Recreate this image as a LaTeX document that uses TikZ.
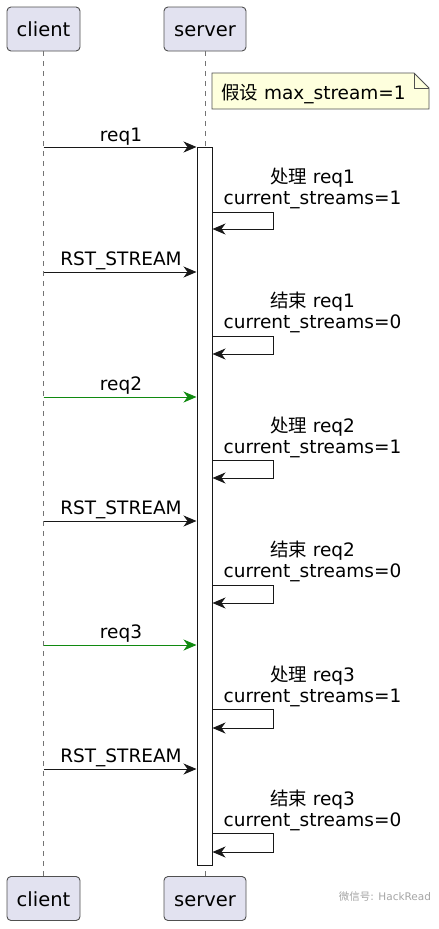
\documentclass[tikz,border=0pt]{standalone}
\usepackage{fontspec}
\setmainfont{DejaVu Sans}
\newfontfamily\cjk{Noto Sans CJK SC}
\usetikzlibrary{arrows.meta}
\definecolor{linec}{HTML}{181818}
\definecolor{boxline}{HTML}{505050}
\definecolor{partfill}{HTML}{E2E2F0}
\definecolor{notefill}{HTML}{FEFFDD}
\definecolor{msggreen}{HTML}{108A10}
\begin{document}
\begin{tikzpicture}[x=1pt,y=-1pt,
  part/.style={draw=boxline, fill=partfill, rounded corners=4pt, line width=0.9pt,
    minimum height=44pt, inner sep=0pt, text height=15pt, text depth=0pt,
    font=\fontsize{19.5}{22}\selectfont},
  life/.style={draw=linec!60, line width=0.8pt, dash pattern=on 5pt off 5pt},
  actbox/.style={draw=linec, fill=white, line width=1pt, minimum width=15pt,
    minimum height=718pt, inner sep=0pt},
  msg/.style={draw=linec, line width=1pt, -{Stealth[length=13pt,width=11pt,inset=4pt]}},
  gmsg/.style={msg, draw=msggreen, fill=msggreen},
  lbl/.style={font=\fontsize{18.5}{21}\selectfont, inner sep=0pt, anchor=base},
  notebox/.style={draw=boxline, fill=notefill, line width=0.9pt}]
\useasboundingbox (0,0) rectangle (439,929);
\fill[white] (0,0) rectangle (439,929);

% participants
\node[part, minimum width=73pt] (ct) at (43.5,29) {client};
\node[part, minimum width=82pt] (st) at (205,29) {server};
\node[part, minimum width=73pt] (cb) at (43.5,898.5) {client};
\node[part, minimum width=82pt] (sb) at (205,898.5) {server};

% lifelines
\draw[life] (ct.south) -- (cb.north);
\draw[life] (st.south) -- (sb.north);

% activation
\node[actbox] (act) at (204.5,506) {};

% note
\draw[notebox] (212,73) -- (414,73) -- (429,88) -- (429,109) -- (212,109) -- cycle;
\draw[draw=boxline, line width=0.9pt] (414,73) -- (414,88) -- (429,88);
\node[lbl, anchor=base west] (note) at (221,99) {{\cjk 假设} max\_stream=1};

% cycle 1
\draw[msg] (ct.south |- 0,147) -- (act.west |- 0,147);
\node[lbl] (m1) at (121,141) {req1};
\draw[msg] (act.east |- 0,212) -- ++(61,0) -- ++(0,17) -- (act.east |- 0,229);
\node[lbl] (s1a) at (312.5,183) {{\cjk 处理} req1};
\node[lbl] (s1b) at (312.5,204) {current\_streams=1};
\draw[msg] (ct.south |- 0,272) -- (act.west |- 0,272);
\node[lbl] (m2) at (121,265) {RST\_STREAM};
\draw[msg] (act.east |- 0,336) -- ++(61,0) -- ++(0,18) -- (act.east |- 0,354);
\node[lbl] (s2a) at (312.5,307.5) {{\cjk 结束} req1};
\node[lbl] (s2b) at (312.5,328.5) {current\_streams=0};

% cycle 2
\draw[gmsg] (ct.south |- 0,397) -- (act.west |- 0,397);
\node[lbl] (m3) at (121,390) {req2};
\draw[msg] (act.east |- 0,460) -- ++(61,0) -- ++(0,18) -- (act.east |- 0,478);
\node[lbl] (s3a) at (312.5,432) {{\cjk 处理} req2};
\node[lbl] (s3b) at (312.5,453) {current\_streams=1};
\draw[msg] (ct.south |- 0,521) -- (act.west |- 0,521);
\node[lbl] (m4) at (121,514) {RST\_STREAM};
\draw[msg] (act.east |- 0,585) -- ++(61,0) -- ++(0,18) -- (act.east |- 0,603);
\node[lbl] (s4a) at (312.5,556.5) {{\cjk 结束} req2};
\node[lbl] (s4b) at (312.5,577.5) {current\_streams=0};

% cycle 3
\draw[gmsg] (ct.south |- 0,645) -- (act.west |- 0,645);
\node[lbl] (m5) at (121,638) {req3};
\draw[msg] (act.east |- 0,709) -- ++(61,0) -- ++(0,19) -- (act.east |- 0,728);
\node[lbl] (s5a) at (312.5,681) {{\cjk 处理} req3};
\node[lbl] (s5b) at (312.5,702) {current\_streams=1};
\draw[msg] (ct.south |- 0,769) -- (act.west |- 0,769);
\node[lbl] (m6) at (121,762) {RST\_STREAM};
\draw[msg] (act.east |- 0,833) -- ++(61,0) -- ++(0,19) -- (act.east |- 0,852);
\node[lbl] (s6a) at (312.5,805) {{\cjk 结束} req3};
\node[lbl] (s6b) at (312.5,826) {current\_streams=0};

% watermark
\node[font=\fontsize{10.5}{12}\selectfont, text=gray!70, inner sep=0pt] (wm) at (385,897) {{\cjk 微信号}: HackRead};
\end{tikzpicture}
\end{document}
